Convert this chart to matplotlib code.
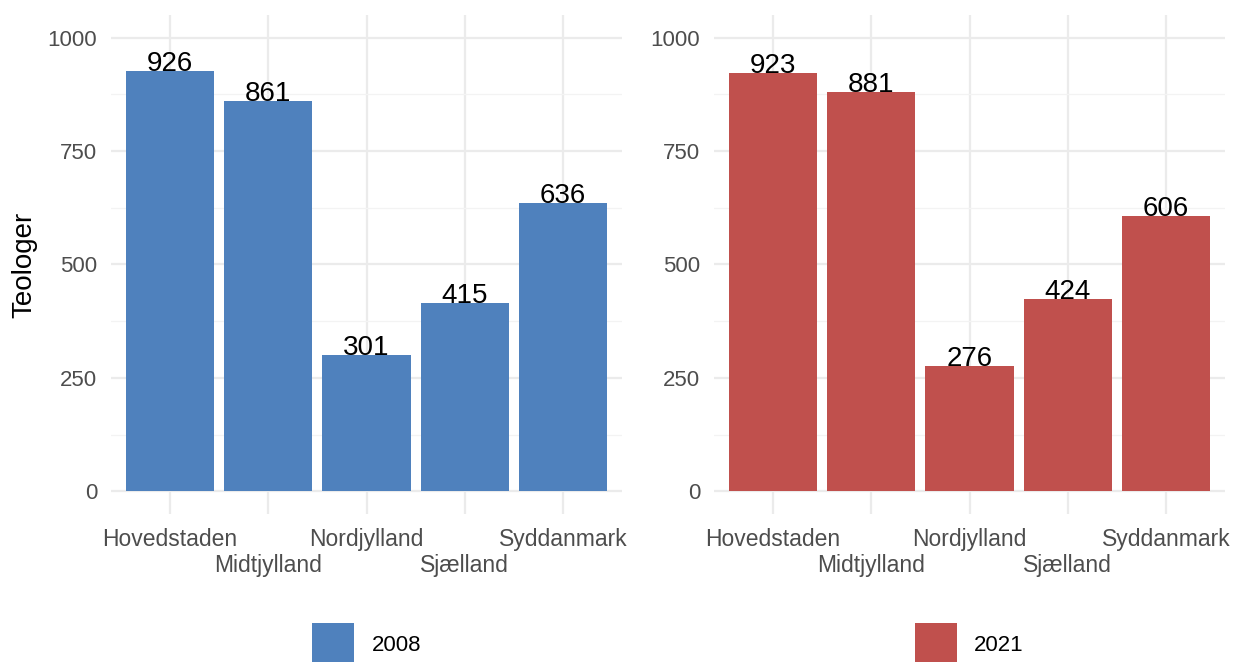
"""Teologer per region, 2008 vs 2021."""

import matplotlib
matplotlib.use("Agg")
import matplotlib.pyplot as plt
from matplotlib.patches import Patch
from matplotlib.ticker import MultipleLocator, FixedLocator
import numpy as np

plt.rcParams["font.family"] = ["Liberation Sans", "DejaVu Sans"]

regions = ["Hovedstaden", "Midtjylland", "Nordjylland", "Sjælland", "Syddanmark"]
vals_2008 = [926, 861, 301, 415, 636]
vals_2021 = [923, 881, 276, 424, 606]
years = ["2008", "2021"]
colors = ["#4F81BD", "#C0504D"]

W, H = 1236, 662
fig = plt.figure(figsize=(W / 100, H / 100), dpi=100)

panels = [(111, vals_2008), (714, vals_2021)]
for i, (left_px, vals) in enumerate(panels):
    ax = fig.add_axes([left_px / W, 1 - 514 / H, 511 / W, 499 / H])
    x = np.arange(len(regions))
    ax.bar(x, vals, width=0.9, color=colors[i], zorder=2)
    for xi, v in zip(x, vals):
        ax.text(xi, v, str(v), ha="center", va="baseline", fontsize=20,
                color="black", zorder=3)

    ax.set_xlim(-0.6, len(regions) - 0.4)
    ax.set_ylim(-50, 1050)
    ax.yaxis.set_major_locator(MultipleLocator(250))
    ax.yaxis.set_minor_locator(MultipleLocator(125))

    # dodged category labels: even ones on the first row, odd ones below
    even = x[::2]
    odd = x[1::2]
    ax.xaxis.set_major_locator(FixedLocator(even))
    ax.xaxis.set_minor_locator(FixedLocator(odd))
    ax.set_xticklabels([regions[j] for j in even])
    ax.set_xticklabels([regions[j] for j in odd], minor=True)

    ax.tick_params(axis="both", which="both", length=0, labelsize=16.5,
                   labelcolor="#4D4D4D")
    ax.tick_params(axis="y", labelsize=16)
    ax.tick_params(axis="x", which="major", pad=10)
    ax.tick_params(axis="x", which="minor", pad=29)
    ax.tick_params(axis="y", pad=10)

    ax.xaxis.grid(which="both", color="#EBEBEB", linewidth=1.6, zorder=0)
    ax.yaxis.grid(which="major", color="#EBEBEB", linewidth=1.6, zorder=0)
    ax.yaxis.grid(which="minor", color="#F3F3F3", linewidth=0.9, zorder=0)
    ax.set_axisbelow(True)
    for s in ax.spines.values():
        s.set_visible(False)

    if i == 0:
        ax.set_ylabel("Teologer", fontsize=20, color="black", labelpad=7)

    cx = (left_px + 511 / 2) / W
    fig.legend(handles=[Patch(facecolor=colors[i], edgecolor="none", label=years[i])],
               loc="center", bbox_to_anchor=(cx, 1 - 644 / H), frameon=False,
               fontsize=16, handlelength=1.9, handleheight=2.6, handletextpad=0.77,
               borderaxespad=0, borderpad=0)

fig.savefig("out.png", dpi=100)
